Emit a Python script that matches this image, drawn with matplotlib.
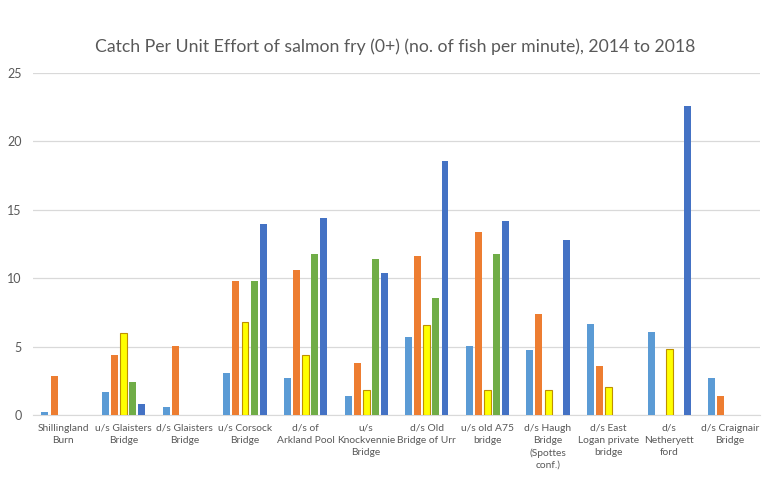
import matplotlib
matplotlib.use("Agg")
import matplotlib.pyplot as plt
import numpy as np

plt.rcParams["font.family"] = ["Lato", "DejaVu Sans"]

sites = ["Shillingland\nBurn", "u/s Glaisters\nBridge", "d/s Glaisters\nBridge",
         "u/s Corsock\nBridge", "d/s of\nArkland Pool", "u/s\nKnockvennie\nBridge",
         "d/s Old\nBridge of Urr", "u/s old A75\nbridge", "d/s Haugh\nBridge\n(Spottes\nconf.)",
         "d/s East\nLogan private\nbridge", "d/s\nNetheryett\nford", "d/s Craignair\nBridge"]
nan = np.nan
y2014 = [0.24, 1.7, 0.6, 3.1, 2.7, 1.4, 5.7, 5.05, 4.75, 6.65, 6.07, 2.7]
y2015 = [2.85, 4.4, 5.05, 9.8, 10.6, 3.8, 11.63, 13.4, 7.4, 3.6, nan, 1.4]
y2016 = [nan, 6.0, nan, 6.78, 4.4, 1.83, 6.6, 1.83, 1.83, 2.05, 4.83, nan]
y2017 = [nan, 2.44, nan, 9.8, 11.78, 11.4, 8.56, 11.78, nan, nan, nan, nan]
y2018 = [nan, 0.8, nan, 14.0, 14.41, 10.4, 18.6, 14.2, 12.8, nan, 22.6, nan]

series = [y2014, y2015, y2016, y2017, y2018]
colors = ["#5b9bd5", "#ed7d31", "#ffff00", "#70ad47", "#4472c4"]
edges  = [None, None, "#bf9000", None, None]

fig = plt.figure(figsize=(7.64, 4.8), dpi=100)
ax = fig.add_axes([0.043, 0.135, 0.952, 0.713])

x = np.arange(len(sites))
step, w = 0.15, 0.115
for i, (vals, c, ec) in enumerate(zip(series, colors, edges)):
    ax.bar(x + (i - 2) * step, vals, width=w, color=c,
           edgecolor=ec if ec else c, linewidth=0.8 if ec else 0, zorder=3)

ax.set_ylim(0, 25)
ax.set_yticks(range(0, 26, 5))
ax.set_xlim(-0.5, len(sites) - 0.5)
ax.set_xticks(x)
ax.set_xticklabels(sites, fontsize=7.4, color="#595959", va="top", linespacing=1.45)
ax.tick_params(axis="x", length=0, pad=6)
ax.tick_params(axis="y", length=0, labelsize=9, labelcolor="#595959", pad=8)
ax.grid(axis="y", color="#d9d9d9", linewidth=0.9, zorder=0)
for s in ["top", "right", "left"]:
    ax.spines[s].set_visible(False)
ax.spines["bottom"].set_color("#d9d9d9")

fig.text(0.517, 0.903, "Catch Per Unit Effort of salmon fry (0+) (no. of fish per minute), 2014 to 2018",
         ha="center", va="center", fontsize=12.7, color="#595959")

fig.savefig("out.png", dpi=100)
